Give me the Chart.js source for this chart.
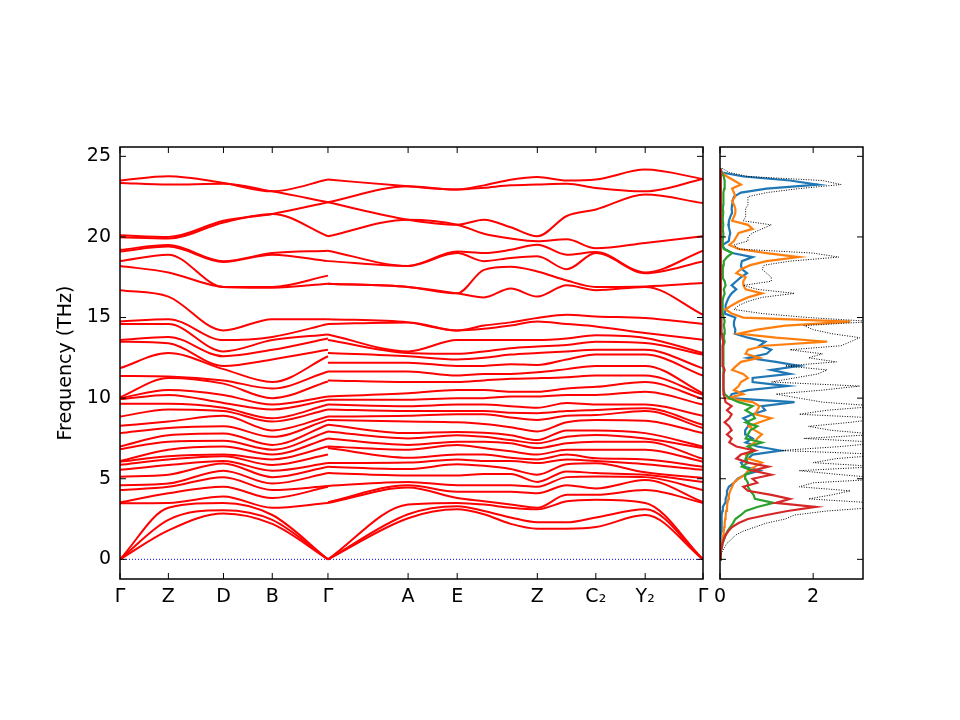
<!DOCTYPE html>
<html><head><meta charset="utf-8">
<script src="https://cdn.jsdelivr.net/npm/chart.js@4.4.0/dist/chart.umd.min.js"></script>
<style>
html,body{margin:0;padding:0;background:#fff;}
#wrap{position:relative;width:960px;height:720px;background:#fff;}
#c1{position:absolute;left:0;top:0;width:710px;height:720px;}
#c2{position:absolute;left:710px;top:0;width:250px;height:720px;}
</style></head><body>
<div id="wrap"><canvas id="c1" width="710" height="720"></canvas><canvas id="c2" width="250" height="720"></canvas></div>
<script>
// ---- high-symmetry path ----
const kLabels = ['Γ','Z','D','B','Γ','A','E','Z','C₂','Y₂','Γ'];
const kPos = [0,48.3,103.3,152,207.6,287.6,336.6,416.6,475,524.3,582];
const freqTicks = [0,5,10,15,20,25];

// ---- band frequencies (THz), sorted, at sample points along path 1 ----
const path1X = [0,48.3,103.3,152,207.6];
const bandsG0 = [0,0,0,3.48,3.52,4.3,4.6,5.13,5.55,5.86,6.06,6.1,6.83,7.0,7.82,8.28,8.86,9.65,9.94,10.0,10.05,11.38,11.86,13.5,13.6,14.6,14.76,16.7,18.2,18.5,19.1,19.2,19.98,20.1,23.35,23.5];
const bandsZ1 = [1.8,2.45,3.2,3.5,4.1,4.5,4.7,5.25,5.85,6.2,6.4,6.8,7.3,7.7,8.15,8.55,9.3,9.65,10.2,10.5,11.25,11.35,12.8,13.4,13.8,14.6,14.9,16.3,17.8,18.9,19.4,19.5,19.9,20.0,23.25,23.76];
const bandsD = [2.85,3.05,3.5,3.9,4.5,5.1,5.5,5.95,6.1,6.4,6.5,7.0,7.35,7.8,8.25,8.9,9.2,9.4,9.7,10.2,10.9,11.1,11.8,12.0,12.6,12.9,13.6,14.2,16.9,16.9,18.45,18.5,20.9,21.0,23.3,23.35];
const bandsB = [2.2,2.45,2.75,3.2,3.8,4.3,4.7,5.1,5.5,5.85,6.2,6.5,6.8,7.1,7.6,8.0,8.55,8.75,9.3,9.6,10.0,10.6,11.0,12.4,13.0,13.6,13.8,14.9,16.85,16.9,18.9,19.0,21.43,21.43,22.83,22.83];
const bandsG1 = [0,0,0,3.5,4.5,4.55,5.35,5.75,5.97,6.5,7.0,7.5,7.93,8.35,8.65,8.86,9.3,9.6,9.9,10.1,11.03,11.65,12.6,13.0,13.7,13.95,14.6,14.9,17.1,17.6,18.5,19.15,20.04,22.15,22.15,23.56];

// ---- band frequencies along path 2 ----
const path2X = [207.6,287.6,336.6,363.3,390,416.6,446,475,524.3,582];
const bandsG1b = [0,0,0,3.5,3.55,4.55,5.35,5.75,5.97,6.9,7.0,7.5,7.93,8.35,8.65,8.86,9.3,9.6,9.9,10.1,11.1,11.65,12.2,12.8,13.6,13.95,14.6,14.9,17.1,17.1,18.5,19.15,20.04,22.15,22.15,23.56];
const bandsA = [2.55,2.8,3.4,4.45,4.6,4.8,5.2,5.6,6.0,6.3,6.8,7.1,7.5,7.83,8.55,8.9,9.2,9.5,9.9,10.3,11.0,11.65,12.2,12.6,12.8,12.9,14.7,14.7,16.9,16.9,18.2,18.2,21.07,21.07,23.14,23.14];
const bandsE = [3.1,3.3,3.5,3.8,4.2,4.6,5.2,5.9,6.2,6.5,7.1,7.3,7.7,7.9,8.5,9.0,9.2,9.6,10.0,10.5,11.0,11.4,12.0,12.4,12.75,13.6,14.2,14.2,16.5,16.5,19.0,19.1,20.76,20.76,22.94,22.94];
const bandsE1 = [2.8,3.0,3.4,3.6,4.2,4.6,5.3,5.8,6.1,6.5,6.9,7.3,7.6,7.85,8.4,9.0,9.2,9.6,10.0,10.5,11.1,11.5,12.0,12.5,12.9,13.6,14.3,14.5,16.25,17.96,18.5,19.0,20.2,21.07,23.05,23.2];
const bandsE2 = [2.2,2.6,3.2,3.4,4.2,4.6,5.3,5.6,6.1,6.3,6.7,7.2,7.4,7.7,8.2,8.8,9.1,9.5,10.1,10.4,11.2,11.5,12.1,12.7,13.1,13.6,14.5,14.7,16.8,18.15,18.7,19.2,19.9,20.6,23.2,23.55];
const bandsZ2 = [1.9,2.3,3.1,3.2,4.1,4.5,4.8,5.25,5.97,6.2,6.5,6.9,7.2,7.4,7.93,8.65,9.07,9.4,10.1,10.4,11.24,11.6,12.06,12.8,13.2,13.6,14.76,14.97,16.3,17.86,18.8,19.52,19.73,20.04,23.25,23.72];
const bandsZC = [1.9,2.3,3.6,4.0,4.6,5.1,5.45,5.9,6.2,6.5,6.8,7.2,7.6,8.0,8.5,8.9,9.2,9.7,10.2,10.6,11.3,11.8,12.4,12.9,13.3,13.7,14.6,15.17,17.0,17.3,18.0,18.9,19.85,21.3,23.3,23.5];
const bandsC2 = [2.0,2.6,3.7,4.0,4.4,5.14,5.35,5.96,6.1,6.27,6.8,7.3,7.72,8.0,8.65,8.95,9.27,9.6,10.2,10.7,11.4,12.0,12.7,13.0,13.5,13.9,14.45,15.07,16.7,16.9,19.0,19.06,19.3,21.7,23.04,23.56];
const bandsY2 = [2.75,3.1,3.5,4.3,4.92,5.1,5.24,5.4,5.9,6.2,6.8,7.3,7.5,7.83,8.6,9.2,9.38,9.6,10.4,11.0,11.4,12.0,12.7,13.0,13.42,13.73,14.04,14.97,16.9,16.93,17.75,17.8,19.63,22.63,22.83,24.18];
const bandsG2 = [0,0,0,3.5,3.55,4.3,4.8,5.05,5.55,5.75,6.06,6.23,6.9,7.0,7.83,8.15,8.34,8.9,9.6,9.95,10.2,10.3,11.4,11.85,12.7,12.8,13.62,14.6,15.17,17.14,18.48,19.15,20.04,22.1,23.6,23.6];

// ---- density of states ----
const dosFreq = [0,0.25,0.5,0.75,1,1.25,1.5,1.75,2,2.25,2.5,2.75,3,3.25,3.5,3.75,4,4.25,4.5,4.75,5,5.25,5.5,5.75,6,6.25,6.5,6.75,7,7.25,7.5,7.75,8,8.25,8.5,8.75,9,9.25,9.5,9.75,10,10.25,10.5,10.75,11,11.25,11.5,11.75,12,12.25,12.5,12.75,13,13.25,13.5,13.75,14,14.25,14.5,14.75,15,15.25,15.5,15.75,16,16.25,16.5,16.75,17,17.25,17.5,17.75,18,18.25,18.5,18.75,19,19.25,19.5,19.75,20,20.25,20.5,20.75,21,21.25,21.5,21.75,22,22.25,22.5,22.75,23,23.25,23.5,23.75,24,24.25];
const dosTotal = [0,0.02,0.05,0.1,0.15,0.25,0.33,0.5,
 0.75,1.0,1.4,1.6,2.3,3.5,3.3,1.9,
 2.4,2.8,1.7,2.0,3.6,2.6,1.7,3.4,
 2.0,2.5,3.6,1.3,2.6,3.5,1.8,3.4,
 2.4,1.9,2.8,3.5,1.7,2.3,3.4,2.2,
 1.7,1.2,2.2,3.0,1.1,1.6,2.1,2.3,
 1.4,2.5,1.9,2.2,1.5,2.6,2.8,3.0,
 2.4,2.0,1.8,3.3,1.9,0.9,0.3,0.4,
 0.6,0.9,1.6,0.8,0.5,1.1,1.1,1.0,
 0.9,0.95,1.5,2.55,2.0,0.4,0.3,0.6,
 0.6,0.7,0.9,1.1,0.5,0.55,0.55,0.55,
 0.6,0.6,0.6,1.0,1.7,2.6,2.2,0.6,
 0.2,0.05];
const dosBlue = [0,0,0.01,0.01,0.02,0.02,0.02,0.03,
 0.03,0.03,0.04,0.04,0.05,0.06,0.11,0.12,
 0.15,0.15,0.19,0.3,0.38,0.54,0.85,0.5,
 0.45,0.6,0.7,1.3,0.8,0.55,0.7,0.55,
 0.54,0.6,0.62,0.5,0.7,0.97,0.9,1.6,
 0.2,0.25,0.6,1.45,0.7,0.7,1.5,1.1,
 1.7,1.2,0.6,1.0,1.1,0.85,0.97,0.6,
 0.32,0.33,0.3,0.3,0.33,0.1,0.12,0.12,
 0.15,0.19,0.25,0.35,0.25,0.35,0.45,0.58,
 0.47,0.45,0.47,0.7,0.26,0.1,0.05,0.19,
 0.2,0.22,0.2,0.18,0.19,0.22,0.26,0.25,
 0.26,0.27,0.3,0.45,1.0,2.1,1.5,0.5,
 0.05,0];
const dosOrange = [0,0.01,0.02,0.03,0.04,0.06,0.07,0.08,
 0.09,0.1,0.11,0.12,0.13,0.15,0.16,0.18,
 0.19,0.22,0.26,0.3,0.4,0.54,0.6,0.75,
 0.9,0.6,0.55,0.7,0.6,0.75,0.8,0.9,
 0.75,0.62,0.85,1.1,0.75,0.8,0.85,0.7,
 0.15,0.5,0.3,0.4,0.45,0.6,0.5,0.26,
 0.35,0.45,0.85,0.55,0.6,0.95,2.3,1.2,
 0.4,0.8,1.4,2.8,0.5,0.25,0.12,0.25,
 0.4,0.6,0.9,0.55,0.5,0.5,0.55,0.35,
 0.45,0.65,1.0,1.69,1.0,0.4,0.2,0.3,
 0.35,0.4,0.7,0.6,0.26,0.3,0.33,0.33,
 0.3,0.26,0.33,0.3,0.26,0.45,0.3,0.15,
 0.03,0];
const dosGreen = [0,0.01,0.02,0.04,0.06,0.09,0.12,0.16,
 0.22,0.28,0.33,0.45,0.55,0.8,1.15,0.75,
 0.72,0.65,0.6,0.6,0.55,0.54,0.7,0.47,
 0.6,0.55,0.6,0.75,0.6,0.9,0.55,0.6,
 0.65,0.8,0.55,0.75,0.7,0.55,0.7,0.4,
 0.2,0.1,0.08,0.08,0.07,0.07,0.07,0.07,
 0.08,0.07,0.07,0.08,0.08,0.07,0.1,0.08,
 0.09,0.1,0.08,0.1,0.08,0.06,0.05,0.06,
 0.06,0.07,0.1,0.08,0.12,0.1,0.05,0.06,
 0.06,0.07,0.08,0.15,0.26,0.08,0.05,0.06,
 0.07,0.07,0.06,0.07,0.06,0.06,0.07,0.06,
 0.07,0.07,0.07,0.08,0.09,0.1,0.1,0.08,
 0.03,0];
const dosRed = [0,0.01,0.02,0.04,0.05,0.08,0.12,0.18,
 0.26,0.4,0.6,1.0,1.45,2.05,1.2,1.5,
 1.1,0.6,0.5,0.8,0.7,1.1,0.7,1.04,
 0.6,0.35,0.45,0.75,0.35,0.2,0.25,0.15,
 0.25,0.2,0.1,0.2,0.25,0.15,0.25,0.12,
 0.1,0.08,0.07,0.08,0.07,0.07,0.08,0.1,
 0.06,0.05,0.06,0.05,0.06,0.05,0.07,0.05,
 0.04,0.03,0.03,0.03,0.03,0.02,0.02,0.02,
 0.02,0.02,0.02,0.02,0.02,0.02,0.02,0.02,
 0.02,0.02,0.02,0.02,0.02,0.02,0.02,0.02,
 0.02,0.02,0.02,0.02,0.02,0.02,0.02,0.02,
 0.02,0.02,0.02,0.02,0.02,0.02,0.02,0.02,
 0.01,0];
const dosTicks = [0,2];

// ---- styles ----
const FONT = 'DejaVu Sans';
const FSIZE = 19;
Chart.defaults.font.family = FONT;
Chart.defaults.font.size = FSIZE;
Chart.defaults.color = '#000';

const framePlugin = {
  id: 'frame',
  afterDatasetsDraw(chart, args, opts) {
    const {ctx, chartArea: a, scales} = chart;
    const xs = scales.x, ys = scales.y;
    ctx.save();
    ctx.strokeStyle = '#000';
    ctx.lineWidth = 1;
    const seg = (x1,y1,x2,y2)=>{ctx.beginPath();ctx.moveTo(x1,y1);ctx.lineTo(x2,y2);ctx.stroke();};
    (opts.xTicks||[]).forEach(v=>{
      const p = xs.getPixelForValue(v);
      seg(p,a.bottom,p,a.bottom-6); seg(p,a.top,p,a.top+6);
    });
    (opts.yTicks||[]).forEach(v=>{
      const p = ys.getPixelForValue(v);
      seg(a.left,p,a.left+6,p); seg(a.right,p,a.right-6,p);
    });
    ctx.lineWidth = 1.5;
    ctx.strokeRect(a.left, a.top, a.right-a.left, a.bottom-a.top);
    ctx.restore();
  }
};
const noPadX = (h)=> (s)=>{ s.height = h; s.paddingLeft = 0; s.paddingRight = 0; };
const noPadY = (w)=> (s)=>{ s.width = w; s.paddingTop = 0; s.paddingBottom = 0; };

// ---- band datasets ----
const path1Cols = [bandsG0,bandsZ1,bandsD,bandsB,bandsG1];
const path2Cols = [bandsG1b,bandsA,bandsE,bandsE1,bandsE2,bandsZ2,bandsZC,bandsC2,bandsY2,bandsG2];
const bandStyle = {borderColor:'#ff0000', borderWidth:2, pointRadius:0, showLine:true, fill:false, cubicInterpolationMode:'monotone'};
const bandSets = [];
for (let b = 0; b < bandsG0.length; b++) {
  bandSets.push(Object.assign({data: path1X.map((x,j)=>({x, y: path1Cols[j][b]}))}, bandStyle));
  bandSets.push(Object.assign({data: path2X.map((x,j)=>({x, y: path2Cols[j][b]}))}, bandStyle));
}
bandSets.push({data:[{x:kPos[0],y:0},{x:kPos[kPos.length-1],y:0}], borderColor:'#0000ff', borderWidth:1, borderDash:[1,2], pointRadius:0, showLine:true});

const yMin = -1.22, yMax = 25.58;

new Chart(document.getElementById('c1'), {
  type: 'scatter',
  data: {datasets: bandSets},
  options: {
    responsive:false, animation:false, events:[], devicePixelRatio:1,
    layout:{padding:{left:0,right:7,top:147,bottom:101}},
    plugins:{legend:{display:false}, tooltip:{enabled:false}, frame:{xTicks:kPos, yTicks:freqTicks}},
    scales:{
      x:{type:'linear', min:kPos[0], max:kPos[kPos.length-1],
         afterBuildTicks:s=>{s.ticks = kPos.map(v=>({value:v}));},
         afterFit:noPadX(40),
         grid:{display:false, drawTicks:false}, border:{display:false},
         ticks:{padding:7, autoSkip:false, maxRotation:0, color:'#000', font:{size:FSIZE}, callback:(v,i)=>kLabels[i]}},
      y:{type:'linear', min:yMin, max:yMax,
         afterBuildTicks:s=>{s.ticks = freqTicks.map(v=>({value:v}));},
         afterFit:noPadY(120),
         grid:{display:false, drawTicks:false}, border:{display:false},
         ticks:{padding:9, color:'#000', font:{size:FSIZE}},
         title:{display:true, text:'Frequency (THz)', color:'#000', font:{size:FSIZE}, padding:{top:55,bottom:0}}}
    }
  },
  plugins:[framePlugin]
});

// ---- DOS chart ----
const mk = (vals)=>dosFreq.map((f,i)=>({x: vals[i], y: f}));
const dosSets = [
  {data: mk(dosTotal), borderColor:'#000', borderWidth:1, borderDash:[1,1.5]},
  {data: mk(dosRed), borderColor:'#d62728', borderWidth:2.2},
  {data: mk(dosGreen), borderColor:'#2ca02c', borderWidth:2.2},
  {data: mk(dosOrange), borderColor:'#ff7f0e', borderWidth:2.2},
  {data: mk(dosBlue), borderColor:'#1f77b4', borderWidth:2.2}
].map(d=>Object.assign(d,{pointRadius:0, showLine:true, tension:0}));

new Chart(document.getElementById('c2'), {
  type:'scatter',
  data:{datasets: dosSets},
  options:{
    responsive:false, animation:false, events:[], devicePixelRatio:1,
    layout:{padding:{left:10,right:97,top:147,bottom:101}},
    plugins:{legend:{display:false}, tooltip:{enabled:false}, frame:{xTicks:dosTicks, yTicks:freqTicks}},
    scales:{
      x:{type:'linear', min:0, max:3.07,
         afterBuildTicks:s=>{s.ticks = dosTicks.map(v=>({value:v}));},
         afterFit:noPadX(40),
         grid:{display:false, drawTicks:false}, border:{display:false},
         ticks:{padding:7, autoSkip:false, maxRotation:0, color:'#000', font:{size:FSIZE}}},
      y:{type:'linear', min:yMin, max:yMax,
         afterBuildTicks:s=>{s.ticks = freqTicks.map(v=>({value:v}));},
         afterFit:noPadY(0),
         grid:{display:false, drawTicks:false}, border:{display:false},
         ticks:{display:false}}
    }
  },
  plugins:[framePlugin]
});
</script>
</body></html>
